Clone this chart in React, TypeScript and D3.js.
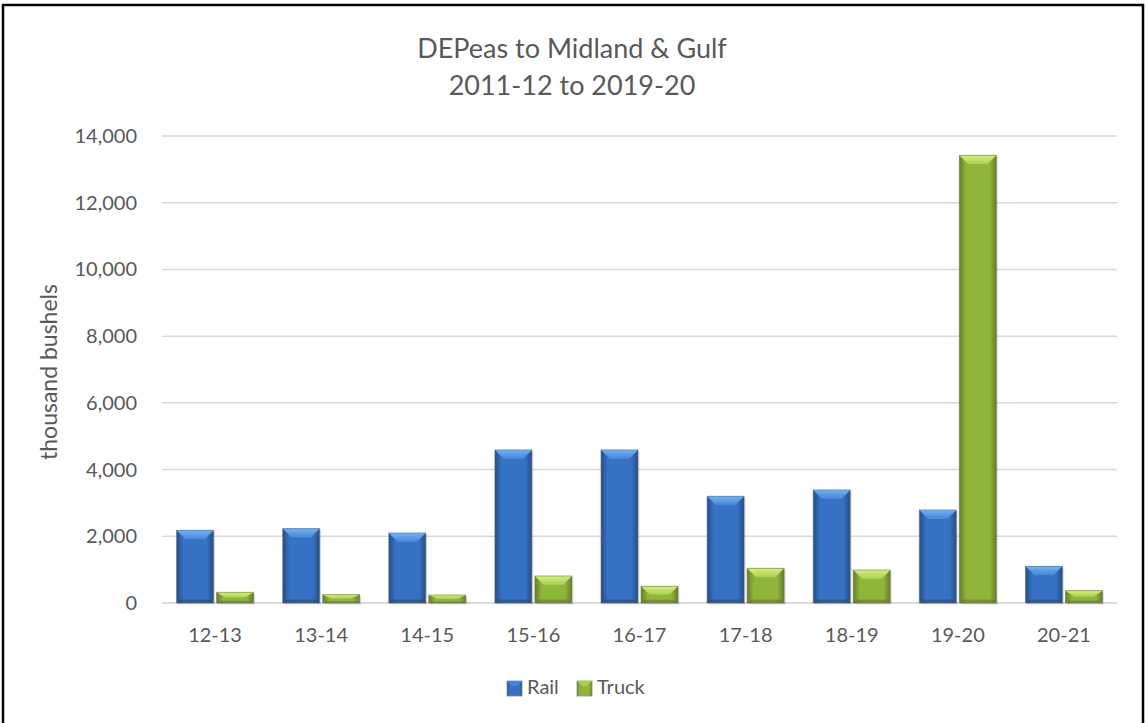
import React from "react";
import * as d3 from "d3";

const categories = ["12-13", "13-14", "14-15", "15-16", "16-17", "17-18", "18-19", "19-20", "20-21"];
const railValues = [2180, 2230, 2100, 4590, 4590, 3200, 3390, 2790, 1100];
const truckValues = [320, 250, 240, 810, 500, 1040, 990, 13420, 370];
const seriesNames = ["Rail", "Truck"];
const yTicks = [0, 2000, 4000, 6000, 8000, 10000, 12000, 14000];
const titleLines = ["DEPeas to Midland & Gulf", "2011-12 to 2019-20"];
const yTitle = "thousand bushels";

const W = 1146;
const H = 723;
const FONT = "Lato, 'Open Sans', sans-serif";
const TXT = "#595959";

const palettes = {
  Rail: { edge: "#244d88", mid: "#3572c4", hiTop: "#74b2f2", hiBot: "#4586d8", bot: "#1f4478" },
  Truck: { edge: "#667f22", mid: "#8fb53a", hiTop: "#d4ee84", hiBot: "#a8cf4c", bot: "#5a731c" },
};

function Bar({ x, y, w, h, name }: { x: number; y: number; w: number; h: number; name: string }) {
  const p = (palettes as any)[name];
  const b = Math.min(9, h / 2);
  const ins = Math.min(9, w / 3);
  return (
    <g>
      <rect x={x + 1.5} y={y + 1.5} width={w} height={h} fill="#000" opacity={0.12} />
      <rect x={x} y={y} width={w} height={h} fill={`url(#side-${name})`} />
      <polygon
        points={`${x},${y} ${x + w},${y} ${x + w - ins},${y + b} ${x + ins},${y + b}`}
        fill={`url(#top-${name})`}
      />
      <polygon
        points={`${x},${y + h} ${x + w},${y + h} ${x + w - ins * 0.4},${y + h - b * 0.4} ${x + ins * 0.4},${y + h - b * 0.4}`}
        fill={p.bot}
        opacity={0.5}
      />
      <rect x={x} y={y} width={w} height={h} fill="none" stroke="#6b6b6b" strokeOpacity={0.55} strokeWidth={1} />
    </g>
  );
}

export default function App() {
  const x0 = d3.scaleBand<string>().domain(categories).range([162, 1117]).paddingInner(0.274).paddingOuter(0.137);
  const x1 = d3.scaleBand<string>().domain(seriesNames).range([0, x0.bandwidth()]).paddingInner(0.075);
  const y = d3.scaleLinear().domain([0, 14000]).range([603, 136]);
  const fmt = d3.format(",");
  const series = [railValues, truckValues];

  return (
    <svg width={W} height={H} style={{ position: "absolute", left: 0, top: 0, background: "#fff" }}>
      <defs>
        {seriesNames.map((n) => {
          const p = (palettes as any)[n];
          return (
            <React.Fragment key={n}>
              <linearGradient id={`side-${n}`} x1="0" x2="1" y1="0" y2="0">
                <stop offset="0" stopColor={p.edge} />
                <stop offset="0.18" stopColor={p.mid} />
                <stop offset="0.82" stopColor={p.mid} />
                <stop offset="1" stopColor={p.edge} />
              </linearGradient>
              <linearGradient id={`top-${n}`} x1="0" x2="0" y1="0" y2="1">
                <stop offset="0" stopColor={p.hiTop} />
                <stop offset="1" stopColor={p.hiBot} />
              </linearGradient>
            </React.Fragment>
          );
        })}
      </defs>
      <rect x={0} y={0} width={W} height={H} fill="#fff" />
      <rect x={3} y={5} width={1140} height={730} fill="none" stroke="#000" strokeWidth={2.5} />

      {titleLines.map((t, i) => (
        <text key={t} x={572} y={58 + i * 37} textAnchor="middle" fontFamily={FONT} fontSize={27} fill={TXT}>
          {t}
        </text>
      ))}

      {yTicks.map((t) => (
        <g key={t}>
          <line x1={162} x2={1117} y1={y(t)} y2={y(t)} stroke={t === 0 ? "#d0d0d0" : "#d9d9d9"} strokeWidth={1.5} />
          <text x={137} y={y(t)} dy="0.35em" textAnchor="end" fontFamily={FONT} fontSize={20} fill={TXT}>
            {fmt(t)}
          </text>
        </g>
      ))}

      <text
        transform={`translate(57,372) rotate(-90)`}
        textAnchor="middle"
        fontFamily={FONT}
        fontSize={23}
        fill={TXT}
      >
        {yTitle}
      </text>

      {categories.map((c, i) => (
        <g key={c}>
          {seriesNames.map((s, j) => {
            const v = series[j][i];
            const bx = (x0(c) as number) + (x1(s) as number);
            return <Bar key={s} x={bx} y={y(v)} w={x1.bandwidth()} h={y(0) - y(v)} name={s} />;
          })}
          <text
            x={(x0(c) as number) + x0.bandwidth() / 2}
            y={642}
            textAnchor="middle"
            fontFamily={FONT}
            fontSize={20}
            fill={TXT}
          >
            {c}
          </text>
        </g>
      ))}

      {seriesNames.map((s, j) => {
        const lx = j === 0 ? 507 : 577;
        const p = (palettes as any)[s];
        return (
          <g key={s}>
            <rect x={lx} y={681} width={15} height={15} fill={`url(#side-${s})`} stroke="#8a8a8a" strokeWidth={0.8} />
            <polygon points={`${lx},681 ${lx + 15},681 ${lx + 10},686 ${lx + 5},686`} fill={p.hiBot} />
            <text x={lx + 20} y={694} fontFamily={FONT} fontSize={20} fill={TXT}>
              {s}
            </text>
          </g>
        );
      })}
    </svg>
  );
}
